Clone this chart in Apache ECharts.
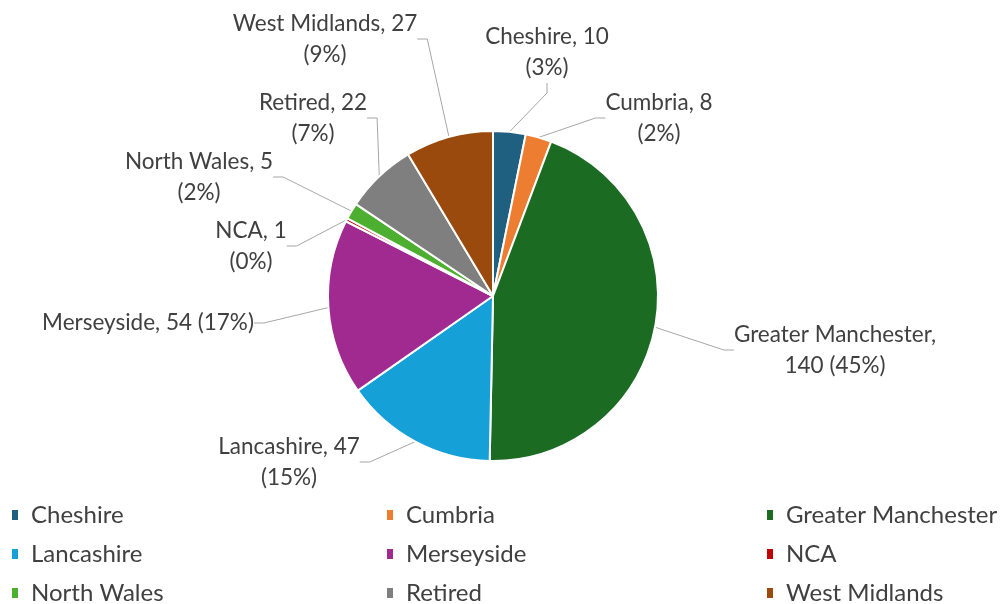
<!DOCTYPE html>
<html>
<head>
<meta charset="utf-8">
<script src="https://cdn.jsdelivr.net/npm/echarts@6/dist/echarts.min.js"></script>
<style>
  html, body { margin: 0; padding: 0; background: #fff; }
  #chart { width: 1006px; height: 604px; }
</style>
</head>
<body>
<div id="chart"></div>
<script>
// data
var regions = ['Cheshire', 'Cumbria', 'Greater Manchester', 'Lancashire', 'Merseyside', 'NCA', 'North Wales', 'Retired', 'West Midlands'];
var counts = [10, 8, 140, 47, 54, 1, 5, 22, 27];
var colors = ['#1f5f7f', '#ed7d31', '#1b6b23', '#16a0d8', '#a12a90', '#c00000', '#4caf2f', '#7f7f7f', '#9b4a0e'];

// legend columns (row-wise order like excel)
var legendCols = [
  ['Cheshire', 'Lancashire', 'North Wales'],
  ['Cumbria', 'Merseyside', 'Retired'],
  ['Greater Manchester', 'NCA', 'West Midlands']
];

// where each data label sits (center of text block)
var labelPos = [
  [547, 52], [659, 118], [835, 350], [289, 462], [148, 323],
  [251, 246], [199, 177], [313, 118], [325, 39]
];

var chart = echarts.init(document.getElementById('chart'));

var font = 'Lato, "Open Sans", sans-serif';

var legends = legendCols.map(function (col, i) {
  return {
    orient: 'vertical',
    left: [10, 385, 765][i],
    top: 503,
    height: 130,
    padding: 0,
    itemGap: 15,
    itemWidth: 8,
    itemHeight: 12,
    icon: 'rect',
    data: col,
    textStyle: { fontFamily: font, fontSize: 24, lineHeight: 24, color: '#404040', padding: [0, 0, 0, 7] }
  };
});

var option = {
  color: colors,
  animation: false,
  legend: legends,
  series: [{
    type: 'pie',
    center: [493, 296],
    radius: 165,
    startAngle: 90,
    clockwise: true,
    avoidLabelOverlap: false,
    percentPrecision: 0,
    itemStyle: { borderColor: '#fff', borderWidth: 2 },
    label: {
      show: true,
      fontFamily: font,
      fontSize: 22.5,
      lineHeight: 31,
      color: '#404040',
      align: 'center',
      formatter: function (p) {
        if (p.name === 'Merseyside') return p.name + ', ' + p.value + ' (' + p.percent + '%)';
        if (p.name === 'Greater Manchester') return p.name + ',\n' + p.value + ' (' + p.percent + '%)';
        return p.name + ', ' + p.value + '\n(' + p.percent + '%)';
      }
    },
    labelLine: { show: true, length: 20, length2: 10, lineStyle: { color: '#a6a6a6', width: 1 } },
    labelLayout: function (params) {
      var p = labelPos[params.dataIndex];
      return { x: p[0], y: p[1], align: 'center', verticalAlign: 'middle' };
    },
    emphasis: { disabled: true },
    data: regions.map(function (r, i) { return { name: r, value: counts[i] }; })
  }]
};

chart.setOption(option);
</script>
</body>
</html>
